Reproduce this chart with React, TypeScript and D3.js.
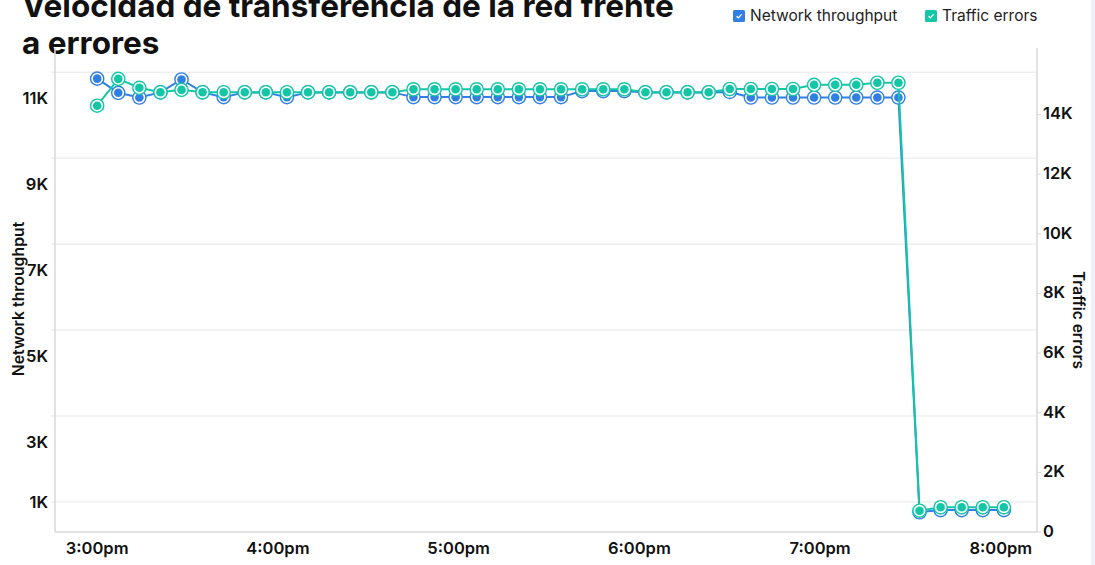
import React from "react";
import * as d3 from "d3";

// Sample times (one reading every 7 minutes)
const times: string[] = [
  "15:00", "15:07", "15:14", "15:21", "15:28", "15:35", "15:42", "15:49", "15:56",
  "16:03", "16:10", "16:17", "16:24", "16:31", "16:38", "16:45", "16:52", "16:59",
  "17:06", "17:13", "17:20", "17:27", "17:34", "17:41", "17:48", "17:55",
  "18:02", "18:09", "18:16", "18:23", "18:30", "18:37", "18:44", "18:51", "18:58",
  "19:05", "19:12", "19:19", "19:26", "19:33", "19:40", "19:47", "19:54", "20:01",
];

// Network throughput (left axis)
const throughput: number[] = [
  11450, 11120, 11010, 11130, 11430, 11130, 11020, 11130, 11130,
  11020, 11130, 11130, 11130, 11130, 11130, 11020, 11020, 11020,
  11020, 11020, 11020, 11020, 11020, 11160, 11160, 11160,
  11130, 11130, 11130, 11130, 11140, 11010, 11010, 11010, 11010,
  11010, 11010, 11010, 11010, 1360, 1410, 1410, 1410, 1410,
];

// Traffic errors (right axis)
const trafficErrors: number[] = [
  14300, 15200, 14900, 14750, 14830, 14750, 14750, 14750, 14750,
  14750, 14750, 14750, 14750, 14750, 14750, 14850, 14850, 14850,
  14850, 14850, 14850, 14850, 14850, 14850, 14850, 14850,
  14750, 14750, 14750, 14750, 14860, 14860, 14860, 14860, 15000,
  15000, 15000, 15070, 15070, 715, 830, 830, 830, 830,
];

const leftTickValues: number[] = [11000, 9000, 7000, 5000, 3000, 1000];
const leftTickLabels: string[] = ["11K", "9K", "7K", "5K", "3K", "1K"];
const leftGridValues: number[] = [11600, 9600, 7600, 5600, 3600, 1600];
const rightTickValues: number[] = [0, 2000, 4000, 6000, 8000, 10000, 12000, 14000];
const xTickHours: number[] = [15, 16, 17, 18, 19, 20];

const seriesNames = ["Network throughput", "Traffic errors"];
const BLUE = "#2f7fe4";
const TEAL = "#13c7a6";

const W = 1095;
const H = 565;
const plot = { left: 55, right: 1037, top: 55, bottom: 532 };
const FONT = "Inter, 'Noto Sans', sans-serif";

const toDate = (hm: string) => {
  const [h, m] = hm.split(":").map(Number);
  return new Date(2024, 0, 1, h, m);
};

export default function App() {
  const dates = times.map(toDate);
  const x = d3
    .scaleTime()
    .domain([new Date(2024, 0, 1, 14, 46), new Date(2024, 0, 1, 20, 12)])
    .range([plot.left, plot.right]);
  const yL = d3.scaleLinear().domain([900, 12000]).range([plot.bottom, plot.top]);
  const yR = d3.scaleLinear().domain([0, 16000]).range([plot.bottom, plot.top]);

  const fmtK = (v: number) => (v === 0 ? "0" : `${v / 1000}K`);
  const fmtTime = (d: Date) => d3.timeFormat("%-I:%M%p")(d).toLowerCase();

  const lineL = d3
    .line<number>()
    .x((_, i) => x(dates[i]))
    .y((v) => yL(v));
  const lineR = d3
    .line<number>()
    .x((_, i) => x(dates[i]))
    .y((v) => yR(v));

  const lowestGridY = yL(d3.min(leftGridValues) as number);

  const markers = (vals: number[], y: (v: number) => number, color: string) =>
    vals.map((v, i) => (
      <g key={i} transform={`translate(${x(dates[i])},${y(v)})`}>
        <circle r={6.6} fill="#fff" stroke={color} strokeWidth={1.4} />
        <circle r={4.3} fill={color} />
      </g>
    ));

  const legendItems = [
    { name: seriesNames[0], color: BLUE, x: 733 },
    { name: seriesNames[1], color: TEAL, x: 925 },
  ];

  const tickFont = { fontFamily: FONT, fontWeight: 600, fontSize: 16.5, fill: "#111" };

  return (
    <div style={{ position: "absolute", left: 0, top: 0 }}>
      <svg width={W} height={H} style={{ display: "block", background: "#fff" }}>
        {/* title */}
        <text x={22} y={17} fontFamily={FONT} fontWeight={700} fontSize={31.5} fill="#111">
          Velocidad de transferencia de la red frente
        </text>
        <text x={22} y={54} fontFamily={FONT} fontWeight={700} fontSize={31.5} fill="#111">
          a errores
        </text>

        {/* legend */}
        {legendItems.map((it) => (
          <g key={it.name} transform={`translate(${it.x},10)`}>
            <rect width={12} height={12} rx={1.5} fill={it.color} />
            <path d="M3.6 6.2 L5.3 7.9 L8.6 4.4" fill="none" stroke="#fff" strokeWidth={1.3} />
            <text x={17} y={11} fontFamily={FONT} fontSize={15.5} fill="#222">
              {it.name}
            </text>
          </g>
        ))}

        {/* grid */}
        {leftGridValues.map((v) => (
          <line key={v} x1={plot.left - 4} x2={plot.right} y1={yL(v)} y2={yL(v)} stroke="#e6e6e6" strokeWidth={1} />
        ))}

        {/* axes lines */}
        <line x1={plot.left} x2={plot.left} y1={48} y2={plot.bottom} stroke="#d9d9d9" strokeWidth={1.5} />
        <line x1={plot.right} x2={plot.right} y1={48} y2={plot.bottom} stroke="#d9d9d9" strokeWidth={1.5} />
        <line x1={plot.left} x2={plot.right} y1={plot.bottom} y2={plot.bottom} stroke="#d9d9d9" strokeWidth={1.5} />

        {/* left ticks */}
        {leftTickValues.map((v, i) => (
          <text
            key={v}
            x={48}
            y={Math.min(yL(v), lowestGridY)}
            dy="0.35em"
            textAnchor="end"
            {...tickFont}
          >
            {leftTickLabels[i]}
          </text>
        ))}

        {/* right ticks */}
        {rightTickValues.map((v) => (
          <g key={v}>
            <line x1={plot.right} x2={plot.right + 4} y1={yR(v)} y2={yR(v)} stroke="#d9d9d9" />
            <text x={1043} y={yR(v) - 1} dy="0.35em" {...tickFont}>
              {fmtK(v)}
            </text>
          </g>
        ))}

        {/* x ticks */}
        {xTickHours.map((h) => {
          const d = new Date(2024, 0, 1, h, 0);
          return (
            <text key={h} x={x(d)} y={548} dy="0.35em" textAnchor="middle" {...tickFont}>
              {fmtTime(d)}
            </text>
          );
        })}

        {/* axis titles */}
        <text
          transform="translate(18,299) rotate(-90)"
          textAnchor="middle"
          dy="0.35em"
          fontFamily={FONT}
          fontWeight={600}
          fontSize={15.8}
          fill="#111"
        >
          {seriesNames[0]}
        </text>
        <text
          transform="translate(1078,320) rotate(90)"
          textAnchor="middle"
          dy="0.35em"
          fontFamily={FONT}
          fontWeight={600}
          fontSize={15.5}
          fill="#111"
        >
          {seriesNames[1]}
        </text>

        {/* series */}
        <path d={lineL(throughput) || ""} fill="none" stroke={BLUE} strokeWidth={2} />
        {markers(throughput, yL, BLUE)}
        <path d={lineR(trafficErrors) || ""} fill="none" stroke={TEAL} strokeWidth={2} />
        {markers(trafficErrors, yR, TEAL)}

        {/* page edge strip */}
        <rect x={1091} y={0} width={4} height={H} fill="#eef0fa" />
      </svg>
    </div>
  );
}
